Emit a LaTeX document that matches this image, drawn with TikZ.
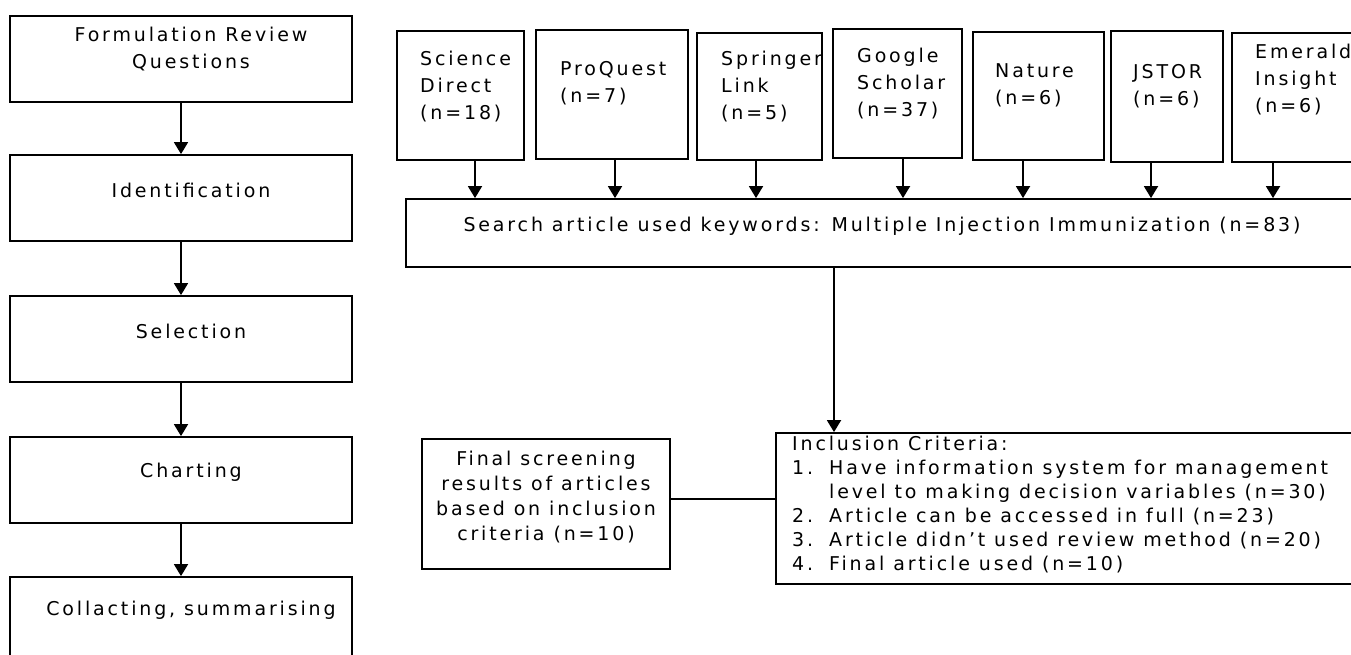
\documentclass[tikz,border=0pt]{standalone}
\usepackage{fontspec}
\setmainfont{DejaVu Sans}[LetterSpace=15]
\usetikzlibrary{positioning, arrows.meta, calc}

\tikzset{
  box/.style={draw, line width=1.8pt, inner sep=0pt},
  stepbox/.style={box, minimum width=342pt, minimum height=86pt},
  txt/.style={inner sep=0pt, font=\fontsize{19}{27}\selectfont, align=left},
  arr/.style={line width=1.8pt, -{Triangle[width=14pt,length=12pt]}}
}

\begin{document}
\begin{tikzpicture}[x=1pt, y=-1pt]
\useasboundingbox (0,0) rectangle (1351,655);

% review steps
\node [stepbox] (formul) at (181,59) {};
\node [stepbox] (ident) at (181,198) {};
\node [stepbox] (select) at (181,339) {};
\node [stepbox] (chart) at (181,480) {};
\node [stepbox] (collact) at (181,620) {};

\node [txt, align=center] (formul-t) at (191,49) {Formulation Review\\Questions};
\node [txt] (ident-t) at (191,190) {Identification};
\node [txt] (select-t) at (191,331) {Selection};
\node [txt] (chart-t) at (191,472) {Charting};
\node [txt] (collact-t) at (191,610) {Collacting, summarising};

\draw [arr] (formul) -- (ident);
\draw [arr] (ident) -- (select);
\draw [arr] (select) -- (chart);
\draw [arr] (chart) -- (collact);

% databases
\node [box, minimum width=127pt, minimum height=129pt] (sd) at (460.5,95.5) {};
\node [box, minimum width=152pt, minimum height=129pt] (pq) at (612,94.5) {};
\node [box, minimum width=125pt, minimum height=127pt] (sl) at (759.5,96.5) {};
\node [box, minimum width=129pt, minimum height=129pt] (gs) at (897.5,93.5) {};
\node [box, minimum width=131pt, minimum height=128pt] (na) at (1038.5,96) {};
\node [box, minimum width=112pt, minimum height=131pt] (js) at (1167,96.5) {};
\node [box, minimum width=130pt, minimum height=129pt] (em) at (1297,97.5) {};

\node [txt, anchor=north west] (sd-t) at (420,51) {Science\\Direct\\(n=18)};
\node [txt, anchor=north west] (pq-t) at (560,61) {ProQuest\\(n=7)};
\node [txt, anchor=north west] (sl-t) at (721,51) {Springer\\Link\\(n=5)};
\node [txt, anchor=north west] (gs-t) at (857,48) {Google\\Scholar\\(n=37)};
\node [txt, anchor=north west] (na-t) at (995,63) {Nature\\(n=6)};
\node [txt, anchor=north west] (js-t) at (1133,64) {JSTOR\\(n=6)};
\node [txt, anchor=north west] (em-t) at (1255,44) {Emerald\\Insight\\(n=6)};

% search
\node [box, minimum width=952pt, minimum height=68pt] (search) at (882,233) {};
\node [txt] (search-t) at (882,226) {Search article used keywords: Multiple Injection Immunization (n=83)};

\foreach \src/\dx in {sd/14.5, pq/3, sl/-3.5, gs/5.5, na/-15.5, js/-16, em/-24}
  \draw [arr] ([xshift=\dx pt]\src.south) -- ([xshift=\dx pt]\src.south |- search.north);

% screening
\node [box, minimum width=584pt, minimum height=151pt] (incl) at (1068,508.5) {};
\node [txt, anchor=north west, font=\fontsize{19}{24}\selectfont] (incl-t) at (792,436)
  {Inclusion Criteria:\\
   \makebox[37pt][l]{1.}Have information system for management\\
   \hspace*{37pt}level to making decision variables (n=30)\\
   \makebox[37pt][l]{2.}Article can be accessed in full (n=23)\\
   \makebox[37pt][l]{3.}Article didn't used review method (n=20)\\
   \makebox[37pt][l]{4.}Final article used (n=10)};

\node [box, minimum width=248pt, minimum height=130pt] (final) at (546,504) {};
\node [txt, align=center, font=\fontsize{19}{25}\selectfont] (final-t) at (546,497.5)
  {Final screening\\results of articles\\based on inclusion\\criteria (n=10)};

\coordinate (drop) at (834,300);
\coordinate (link) at (720,499);
\draw [arr] (search.south -| drop) -- (incl.north -| drop);
\draw [line width=1.8pt] (final.east |- link) -- (incl.west |- link);
\end{tikzpicture}
\end{document}
